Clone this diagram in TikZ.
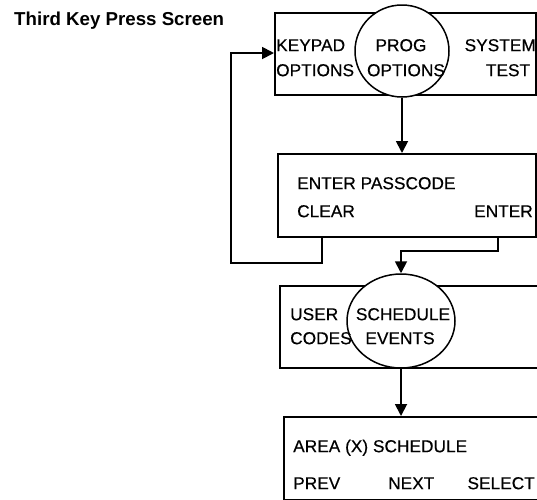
\documentclass[tikz,border=0pt]{standalone}
\usepackage{fontspec}
\setmainfont{Liberation Sans}
\usetikzlibrary{arrows.meta,shapes.geometric}
\begin{document}
\begin{tikzpicture}[x=1pt,y=-1pt,
  screen/.style={draw, line width=2pt, inner sep=0pt, anchor=north west},
  keyring/.style={draw, line width=1.5pt, fill=white, inner sep=0pt},
  lbl/.style={inner sep=0pt, text height=12.4pt, text depth=0pt, font=\fontsize{17.3}{19}\selectfont\addfontfeature{FakeBold=0.4}},
  conn/.style={line width=1.8pt, -{Triangle[length=12pt,width=12pt]}},
  title/.style={inner sep=0pt, anchor=west, font=\bfseries\fontsize{18.7}{20}\selectfont}]
\useasboundingbox (0,0) rectangle (537,499);
\clip (0,0) rectangle (537,499);
\node[title] (t) at (14,21) {Third Key Press Screen};
% box 1
\node[screen, minimum width=261pt, minimum height=82pt] (b1) at (274,12) {};
\node[keyring, ellipse, minimum width=94pt, minimum height=92pt] (c1) at (402,51) {};
\node[lbl, anchor=west] (k1) at (276,45) {KEYPAD};
\node[lbl, anchor=west] (k2) at (276,70) {OPTIONS};
\node[lbl] (p1) at (401,45) {PROG};
\node[lbl] (p2) at (406,70) {OPTIONS};
\node[lbl, anchor=east] (s1) at (536,45) {SYSTEM};
\node[lbl] (s2) at (508,70) {TEST};
% box 2
\node[screen, minimum width=258pt, minimum height=83pt] (b2) at (277,153) {};
\node[lbl, anchor=west] (e1) at (297,183) {ENTER PASSCODE};
\node[lbl, anchor=west] (cl) at (297,211) {CLEAR};
\node[lbl, anchor=east] (en) at (533,211) {ENTER};
% box 3
\node[screen, minimum width=270pt, minimum height=82pt] (b3) at (279,285) {};
\node[keyring, ellipse, minimum width=108pt, minimum height=94pt] (c2) at (401,321) {};
\node[lbl, anchor=west] (u1) at (290,314) {USER};
\node[lbl, anchor=west] (u2) at (290,338) {CODES};
\node[lbl] (sc) at (403,314) {SCHEDULE};
\node[lbl] (ev) at (400,338) {EVENTS};
% box 4
\node[screen, minimum width=270pt, minimum height=83pt] (b4) at (283,416) {};
\node[lbl, anchor=west] (ar) at (293,446) {AREA (X) SCHEDULE};
\node[lbl, anchor=west] (pr) at (293,483) {PREV};
\node[lbl, anchor=west] (nx) at (388,483) {NEXT};
\node[lbl, anchor=east] (se) at (535,483) {SELECT};
% connectors
\coordinate (clr) at (322,236);
\coordinate (ent) at (498,236);
\draw[conn] (c1.south) -- (c1.south |- b2.north);
\draw[conn] (clr) -- ++(0,27) -| (231,53) -- (b1.west |- 0,53);
\draw[conn] (ent) -- (498,251) -| (c2.north);
\draw[conn] (c2.south) -- (c2.south |- b4.north);
\end{tikzpicture}
\end{document}
